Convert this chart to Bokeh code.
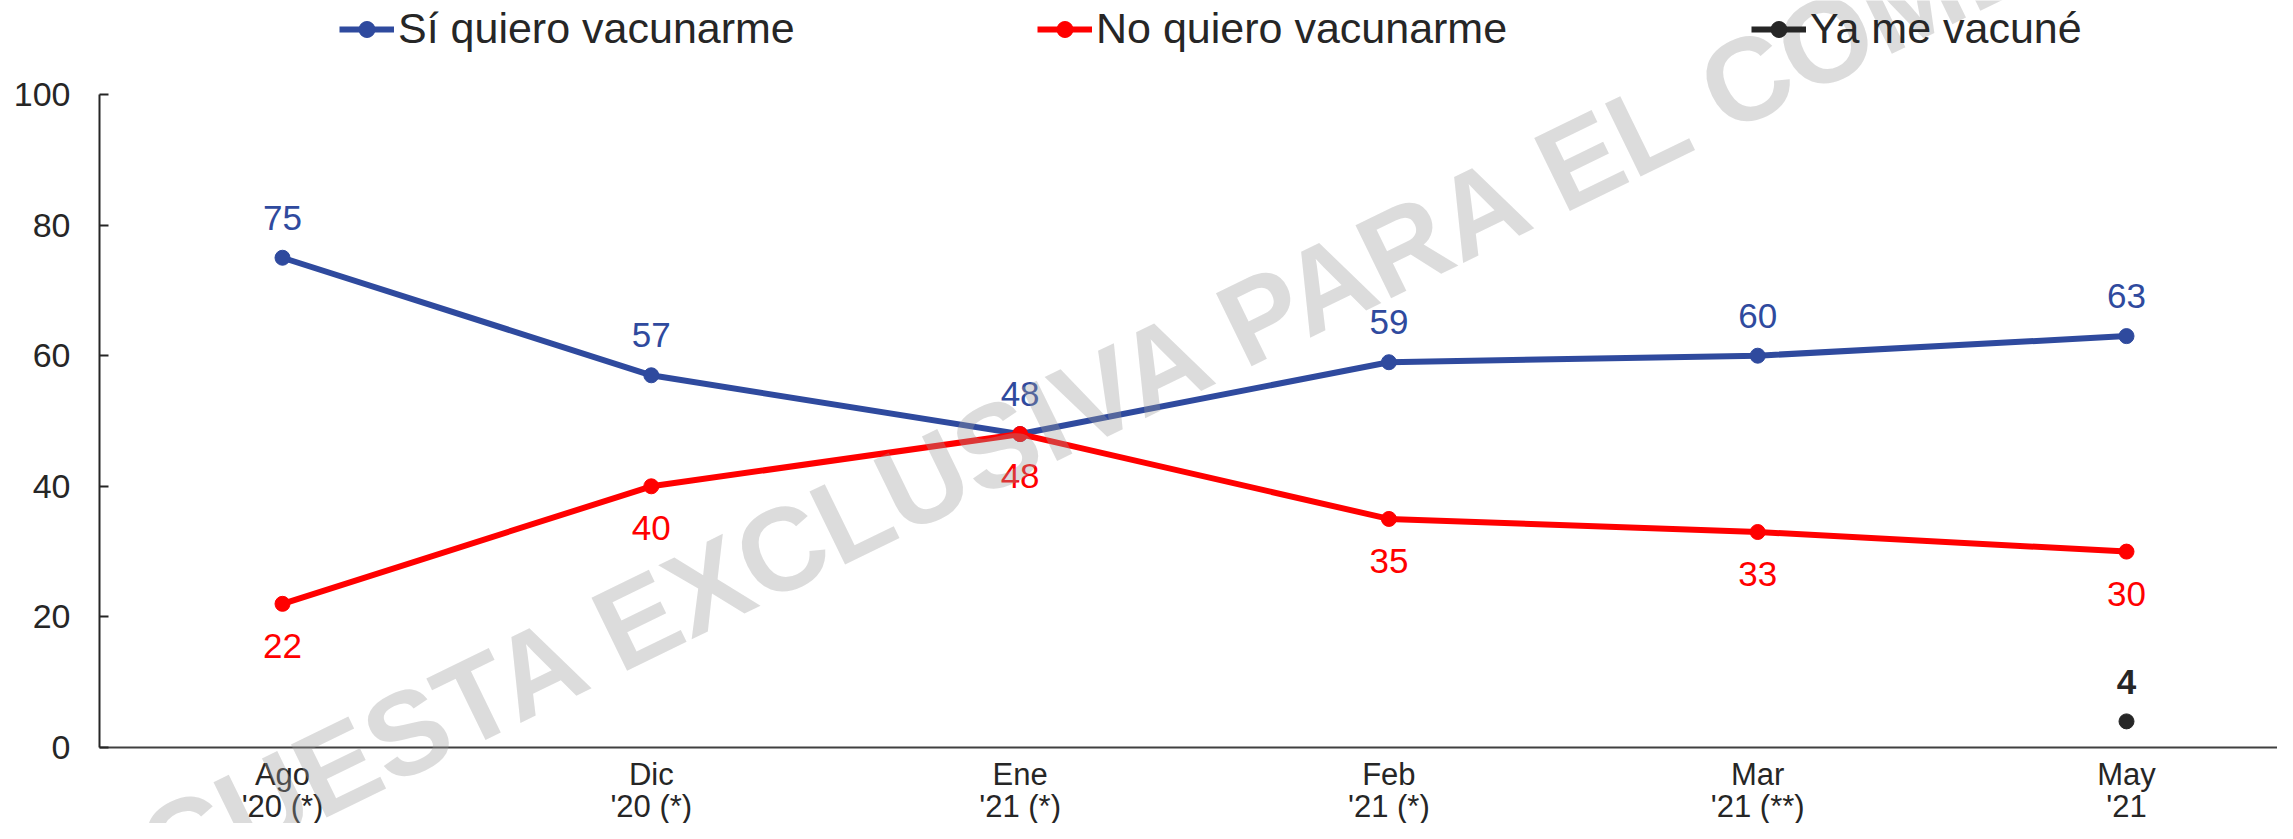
import math
from bokeh.plotting import figure
from bokeh.models import Range1d, FixedTicker, Legend, LegendItem, Label
from bokeh.core.properties import value
from bokeh.embed import file_html
from bokeh.resources import INLINE

# ---------------- data ----------------
month_names = ["Ago", "Dic", "Ene", "Feb", "Mar", "May"]
year_notes = ["'20 (*)", "'20 (*)", "'21 (*)", "'21 (*)", "'21 (**)", "'21"]
x_pos = [0, 1, 2, 3, 4, 5]
si_quiero = [75, 57, 48, 59, 60, 63]
no_quiero = [22, 40, 48, 35, 33, 30]
ya_vacune_x = [5]
ya_vacune = [4]
series_names = ["Sí quiero vacunarme", "No quiero vacunarme", "Ya me vacuné"]
y_ticks = [0, 20, 40, 60, 80, 100]
watermark_text = "ENCUESTA EXCLUSIVA PARA EL COMERCIO"

# ---------------- style / layout ----------------
BLUE = "#2F4A9E"
RED = "#FF0000"
DARK = "#262626"
SANS = "Liberation Sans"

W, H = 2277, 823
PX_X = 368.8           # pixels per category
X0_PX = 282            # pixel of first category
AXIS_PX = 99           # pixel of the y axis line
PX_Y = 6.53            # pixels per percentage point
Y0_PX = 747            # pixel of value 0

x_start = -X0_PX / PX_X
x_end = (W - X0_PX) / PX_X
y_end = Y0_PX / PX_Y
y_start = -(H - Y0_PX) / PX_Y
x_axis_loc = (AXIS_PX - X0_PX) / PX_X

p = figure(width=W, height=H, output_backend="svg", toolbar_location=None,
           x_range=Range1d(x_start, x_end), y_range=Range1d(y_start, y_end),
           min_border_left=0, min_border_right=0, min_border_top=0,
           min_border_bottom=0)
p.outline_line_color = None
p.grid.visible = False
p.background_fill_color = "white"
p.border_fill_color = "white"

# y axis
p.yaxis.fixed_location = x_axis_loc
p.yaxis.bounds = (0, 100)
p.yaxis.ticker = FixedTicker(ticks=y_ticks)
p.yaxis.major_tick_in = 9
p.yaxis.major_tick_out = 0
p.yaxis.minor_tick_line_color = None
p.yaxis.axis_line_width = 2
p.yaxis.axis_line_color = DARK
p.yaxis.major_tick_line_width = 2
p.yaxis.major_tick_line_color = DARK
p.yaxis.major_label_text_font = SANS
p.yaxis.major_label_text_font_size = "34px"
p.yaxis.major_label_text_color = DARK
p.yaxis.major_label_standoff = 29

# x axis
p.xaxis.fixed_location = 0
p.xaxis.bounds = (x_axis_loc, x_end + 0.5)
p.xaxis.ticker = FixedTicker(ticks=x_pos)
p.xaxis.major_label_overrides = {x: f"{m}\n{yr}" for x, m, yr in zip(x_pos, month_names, year_notes)}
p.xaxis.major_tick_in = 0
p.xaxis.major_tick_out = 0
p.xaxis.minor_tick_line_color = None
p.xaxis.axis_line_width = 2
p.xaxis.axis_line_color = "#404040"
p.xaxis.major_label_text_font = SANS
p.xaxis.major_label_text_font_size = "31px"
p.xaxis.major_label_text_color = DARK
p.xaxis.major_label_text_line_height = 0.92
p.xaxis.major_label_standoff = 9

# series
l1 = p.line(x_pos, si_quiero, line_width=6, color=BLUE, line_join="round")
s1 = p.scatter(x_pos, si_quiero, size=15, color=BLUE)
l2 = p.line(x_pos, no_quiero, line_width=6, color=RED, line_join="round")
s2 = p.scatter(x_pos, no_quiero, size=15, color=RED)
l3 = p.line(ya_vacune_x, ya_vacune, line_width=6, color=DARK)
s3 = p.scatter(ya_vacune_x, ya_vacune, size=15, color=DARK)

# data labels
p.text(x_pos, si_quiero, text=[str(v) for v in si_quiero], y_offset=-40,
       text_align="center", text_baseline="middle", text_font=value(SANS),
       text_font_size="35px", text_color=BLUE)
p.text(x_pos, no_quiero, text=[str(v) for v in no_quiero], y_offset=42,
       text_align="center", text_baseline="middle", text_font=value(SANS),
       text_font_size="35px", text_color=RED)
p.text(ya_vacune_x, ya_vacune, text=[str(v) for v in ya_vacune], y_offset=-39,
       text_align="center", text_baseline="middle", text_font=value(SANS),
       text_font_style="bold", text_font_size="35px", text_color=DARK)

# watermark
p.add_layout(Label(x=2.36, y=58, text=watermark_text, angle=math.radians(26),
                   text_align="center", text_baseline="middle", text_font=SANS,
                   text_font_style="bold", text_font_size="118px",
                   text_color="#9a9a9a", text_alpha=0.35))

# legends (one per entry, across the top); location = bottom-left corner
legend_x = [339, 1037, 1751]
for name, rends, lx in zip(series_names, [[l1, s1], [l2, s2], [l3, s3]], legend_x):
    lg = Legend(items=[LegendItem(label=name, renderers=rends)],
                location=(lx, H - 53), orientation="horizontal",
                glyph_width=55, glyph_height=40, label_height=40, label_standoff=4,
                padding=0, margin=0, spacing=0, border_line_alpha=0,
                background_fill_alpha=0, label_text_font=SANS,
                label_text_font_size="43px", label_text_color=DARK)
    p.add_layout(lg, "center")

open("out.html", "w").write(file_html(p, INLINE))
